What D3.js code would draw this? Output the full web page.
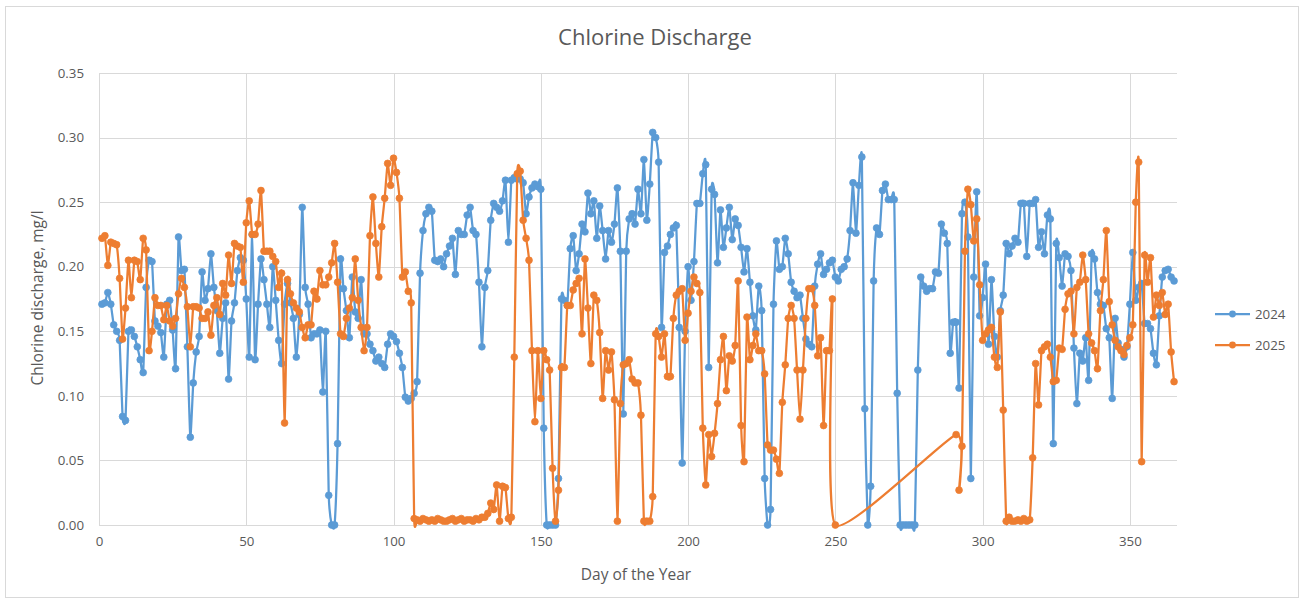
<!DOCTYPE html>
<html><head><meta charset="utf-8">
<script src="https://cdn.jsdelivr.net/npm/d3@7"></script>
<style>
body{margin:0;background:#fff}
svg{display:block}
text{font-family:"Open Sans","Noto Sans",sans-serif;fill:#595959}
</style>
</head><body>
<svg id="c" width="1304" height="604"></svg>
<script>
const days = d3.range(1, 366);
const chlorine2024 = [
0.171,0.172,0.180,0.171,0.155,0.150,0.143,0.084,0.081,0.150,
0.151,0.146,0.138,0.128,0.118,0.184,0.205,0.204,0.158,0.154,
0.149,0.130,0.171,0.174,0.151,0.121,0.223,0.197,0.198,0.138,
0.068,0.110,0.134,0.146,0.196,0.174,0.183,0.210,0.184,0.166,
0.133,0.160,0.172,0.113,0.158,0.172,0.197,0.207,0.205,0.175,
0.130,0.225,0.128,0.171,0.206,0.190,0.171,0.153,0.200,0.174,
0.143,0.125,0.171,0.187,0.172,0.160,0.130,0.163,0.246,0.184,
0.171,0.145,0.148,0.148,0.151,0.103,0.150,0.023,0.000,0.000,
0.063,0.206,0.183,0.166,0.145,0.192,0.165,0.160,0.190,0.148,
0.148,0.140,0.135,0.127,0.130,0.125,0.122,0.140,0.148,0.146,
0.142,0.133,0.122,0.099,0.096,0.098,0.102,0.111,0.195,0.228,
0.241,0.246,0.243,0.205,0.204,0.206,0.200,0.210,0.216,0.222,
0.194,0.228,0.225,0.225,0.240,0.246,0.228,0.225,0.188,0.138,
0.184,0.197,0.236,0.249,0.246,0.243,0.251,0.267,0.219,0.267,
0.269,0.268,0.268,0.265,0.241,0.254,0.261,0.264,0.262,0.260,
0.075,0.000,0.000,0.000,0.000,0.036,0.175,0.174,0.170,0.214,
0.224,0.197,0.210,0.233,0.227,0.257,0.241,0.251,0.222,0.247,
0.228,0.206,0.228,0.219,0.233,0.261,0.212,0.086,0.212,0.237,
0.241,0.233,0.260,0.241,0.283,0.236,0.264,0.304,0.300,0.281,
0.153,0.211,0.216,0.225,0.230,0.232,0.153,0.048,0.150,0.200,
0.174,0.204,0.249,0.249,0.272,0.279,0.122,0.260,0.256,0.203,
0.244,0.215,0.230,0.246,0.221,0.237,0.232,0.215,0.196,0.214,
0.188,0.162,0.151,0.185,0.166,0.036,0.000,0.012,0.171,0.220,
0.198,0.200,0.222,0.210,0.188,0.181,0.176,0.178,0.160,0.144,
0.140,0.138,0.185,0.202,0.210,0.194,0.198,0.203,0.205,0.192,
0.189,0.198,0.200,0.206,0.228,0.265,0.226,0.263,0.285,0.090,
0.000,0.030,0.189,0.230,0.225,0.259,0.264,0.252,0.252,0.252,
0.102,0.000,0.000,0.000,0.000,0.000,0.000,0.120,0.192,0.185,
0.181,0.183,0.183,0.196,0.195,0.233,0.226,0.218,0.133,0.157,
0.157,0.106,0.241,0.250,0.223,0.036,0.192,0.258,0.162,0.176,
0.202,0.140,0.190,0.146,0.130,0.166,0.178,0.218,0.210,0.216,
0.222,0.219,0.249,0.249,0.208,0.249,0.249,0.252,0.215,0.227,
0.210,0.240,0.237,0.063,0.218,0.207,0.185,0.210,0.208,0.197,
0.137,0.094,0.133,0.127,0.145,0.112,0.210,0.206,0.180,0.171,
0.170,0.152,0.145,0.098,0.160,0.141,0.136,0.130,0.138,0.171,
0.211,0.174,0.184,0.187,0.156,0.156,0.152,0.133,0.124,0.162,
0.192,0.197,0.198,0.192,0.189
];
const chlorine2025 = [
0.222,0.224,0.201,0.219,0.218,0.217,0.191,0.144,0.168,0.205,
0.176,0.205,0.204,0.190,0.222,0.213,0.135,0.150,0.176,0.170,
0.170,0.159,0.170,0.158,0.154,0.160,0.179,0.191,0.184,0.169,
0.138,0.169,0.169,0.168,0.160,0.160,0.165,0.147,0.170,0.176,
0.163,0.187,0.178,0.209,0.187,0.218,0.216,0.215,0.188,0.234,
0.251,0.225,0.225,0.233,0.259,0.212,0.212,0.212,0.208,0.204,
0.184,0.195,0.079,0.190,0.179,0.172,0.168,0.165,0.153,0.145,
0.155,0.155,0.181,0.175,0.197,0.186,0.186,0.192,0.203,0.218,
0.188,0.148,0.146,0.160,0.168,0.176,0.206,0.174,0.153,0.135,
0.153,0.224,0.254,0.218,0.192,0.231,0.253,0.280,0.263,0.284,
0.273,0.253,0.192,0.196,0.181,0.172,0.005,0.004,0.003,0.005,
0.004,0.003,0.004,0.003,0.005,0.004,0.003,0.003,0.004,0.005,
0.003,0.004,0.005,0.003,0.004,0.004,0.003,0.005,0.004,0.006,
0.006,0.009,0.017,0.012,0.031,0.003,0.030,0.029,0.005,0.006,
0.130,0.272,0.274,0.236,0.222,0.205,0.135,0.080,0.135,0.098,
0.135,0.128,0.120,0.044,0.003,0.027,0.122,0.122,0.170,0.170,
0.182,0.187,0.191,0.148,0.206,0.168,0.125,0.178,0.174,0.149,
0.098,0.135,0.120,0.134,0.097,0.003,0.094,0.124,0.125,0.128,
0.113,0.110,0.110,0.085,0.003,0.003,0.003,0.022,0.148,0.146,
0.130,0.148,0.115,0.115,0.160,0.178,0.181,0.183,0.143,0.164,
0.181,0.192,0.187,0.180,0.075,0.031,0.070,0.053,0.071,0.094,
0.128,0.146,0.104,0.131,0.127,0.139,0.189,0.077,0.049,0.161,
0.128,0.139,0.148,0.135,0.135,0.117,0.062,0.058,0.058,0.051,
0.040,0.095,0.124,0.160,0.170,0.160,0.120,0.082,0.120,0.160,
0.183,0.183,0.170,0.131,0.145,0.077,0.135,0.135,0.175,0.000,
null,null,null,null,null,null,null,null,null,null,
null,null,null,null,null,null,null,null,null,null,
null,null,null,null,null,null,null,null,null,null,
null,null,null,null,null,null,null,null,null,null,
0.070,0.027,0.061,0.212,0.260,0.248,0.220,0.237,0.186,0.143,
0.148,0.151,0.153,0.130,0.122,0.165,0.089,0.003,0.006,0.003,
0.003,0.004,0.003,0.005,0.003,0.004,0.052,0.125,0.093,0.135,
0.138,0.140,0.130,0.111,0.112,0.137,0.136,0.167,0.179,0.181,
0.148,0.184,0.188,0.209,0.190,0.148,0.141,0.135,0.121,0.166,
0.190,0.228,0.173,0.155,0.143,0.138,0.135,0.132,0.139,0.145,
0.155,0.250,0.281,0.049,0.209,0.188,0.207,0.161,0.178,0.170,
0.180,0.163,0.171,0.134,0.111
];
const xTicks = [0, 50, 100, 150, 200, 250, 300, 350];
const yTicks = [0, 0.05, 0.10, 0.15, 0.20, 0.25, 0.30, 0.35];
const seriesNames = ["2024", "2025"];
const seriesColors = ["#5B9BD5", "#ED7D31"];
const chartTitle = "Chlorine Discharge";
const xTitle = "Day of the Year";
const yTitle = "Chlorine discharge, mg/l";

const series = [chlorine2024, chlorine2025].map((vals, i) => ({
  name: seriesNames[i], color: seriesColors[i],
  points: days.map((d, j) => ({day: d, v: vals[j]})).filter(p => p.v !== null && p.v !== undefined)
}));

const svg = d3.select("#c");
svg.append("rect").attr("x", 5.5).attr("y", 6.5).attr("width", 1293).attr("height", 591)
  .attr("fill", "#fff").attr("stroke", "#d9d9d9");

const x = d3.scaleLinear().domain([0, 366]).range([99, 1177]);
const y = d3.scaleLinear().domain([0, 0.35]).range([525, 73]);

// gridlines
const grid = svg.append("g");
grid.selectAll("line.h").data(yTicks).join("line")
  .attr("x1", x(0)).attr("x2", x(366))
  .attr("y1", d => Math.round(y(d)) + 0.5).attr("y2", d => Math.round(y(d)) + 0.5)
  .attr("stroke", "#d9d9d9").attr("stroke-width", 1);
grid.selectAll("line.v").data(xTicks).join("line")
  .attr("y1", y(0)).attr("y2", y(0.35))
  .attr("x1", d => Math.round(x(d)) + 0.5).attr("x2", d => Math.round(x(d)) + 0.5)
  .attr("stroke", "#d9d9d9").attr("stroke-width", 1);

// axes (labels only)
const xAxis = svg.append("g").attr("transform", `translate(0,${y(0)})`)
  .call(d3.axisBottom(x).tickValues(xTicks).tickSize(0).tickPadding(12).tickFormat(d3.format("d")));
const yAxis = svg.append("g").attr("transform", `translate(${x(0)},0)`)
  .call(d3.axisLeft(y).tickValues(yTicks).tickSize(0).tickPadding(15).tickFormat(d3.format(".2f")));
[xAxis, yAxis].forEach(g => {
  g.select(".domain").remove();
  g.selectAll("text").attr("fill", "#595959").style("font-size", "13.3px").style("font-family", '"Open Sans","Noto Sans",sans-serif');
});
svg.append("line").attr("x1", x(0)).attr("x2", x(366)).attr("y1", Math.round(y(0)) + 0.5).attr("y2", Math.round(y(0)) + 0.5)
  .attr("stroke", "#d9d9d9");

// series
const line = d3.line().x(p => x(p.day)).y(p => y(p.v)).curve(d3.curveCardinal.tension(0.5));
series.forEach(s => {
  const g = svg.append("g");
  g.append("path").attr("d", line(s.points)).attr("fill", "none")
    .attr("stroke", s.color).attr("stroke-width", 2.25).attr("stroke-linejoin", "round");
  g.selectAll("circle").data(s.points).join("circle")
    .attr("cx", p => x(p.day)).attr("cy", p => y(p.v)).attr("r", 3.4)
    .attr("fill", s.color).attr("stroke", s.color).attr("stroke-width", 0.75);
});

// titles
svg.append("text").attr("x", 655).attr("y", 45).attr("text-anchor", "middle")
  .style("font-size", "22px").text(chartTitle);
svg.append("text").attr("x", 636).attr("y", 580).attr("text-anchor", "middle")
  .style("font-size", "15.5px").text(xTitle);
svg.append("text").attr("transform", "translate(43,298) rotate(-90)").attr("text-anchor", "middle")
  .style("font-size", "15.5px").text(yTitle);

// legend
const leg = svg.append("g");
series.forEach((s, i) => {
  const ly = 314 + i * 31;
  leg.append("line").attr("x1", 1215).attr("x2", 1250).attr("y1", ly).attr("y2", ly)
    .attr("stroke", s.color).attr("stroke-width", 2.25);
  leg.append("circle").attr("cx", 1232.5).attr("cy", ly).attr("r", 3.4).attr("fill", s.color);
  leg.append("text").attr("x", 1255).attr("y", ly + 5).style("font-size", "13.3px").text(s.name);
});
</script>
</body></html>
